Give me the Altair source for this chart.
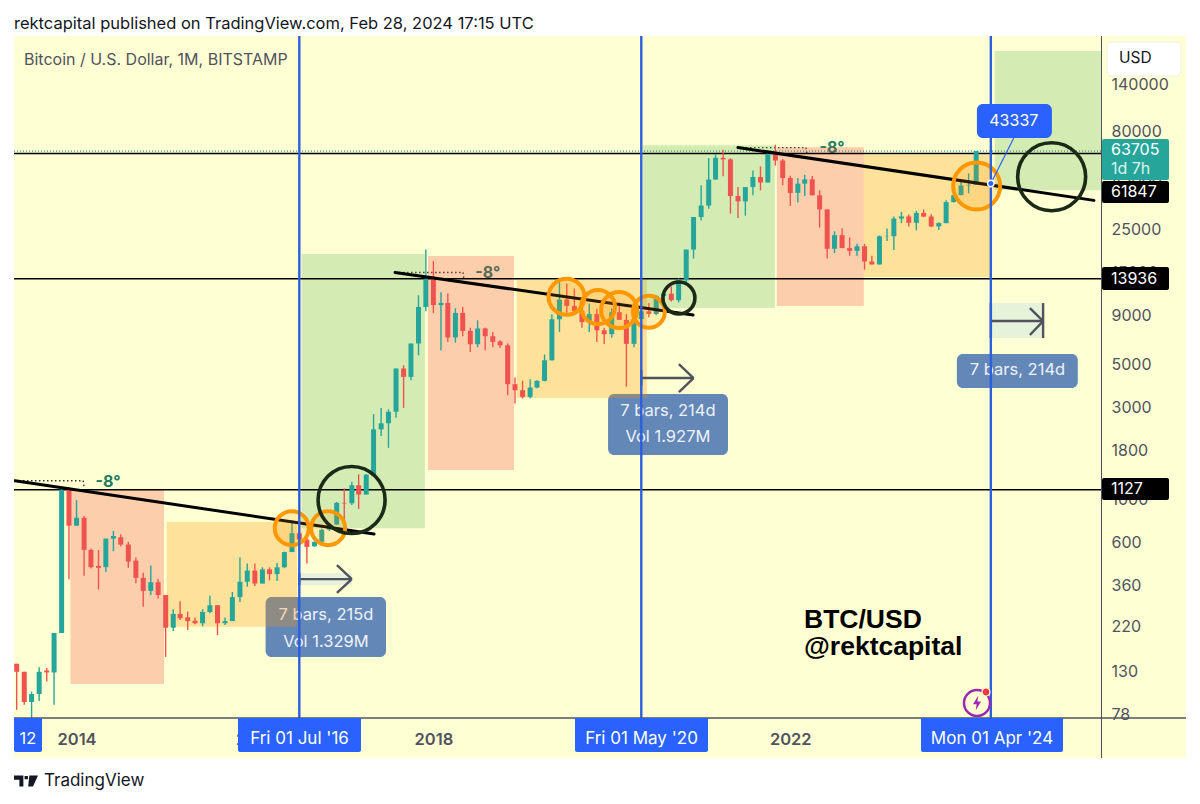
import altair as alt
import pandas as pd

FONT = "Inter"
BG = "#FFFFD4"
TEAL = "#26A69A"
RED = "#EF5350"
BLUE = "#2962FF"
LINEBLUE = "#2B5FDE"
ORANGE = "#FF9800"
DARK = "#1B2A17"

opens = [
    142, 129, 90, 99, 131, 128, 205, 1127,
    735, 808, 551, 455, 449, 630, 640, 587, 485, 395, 338, 375,
    322, 218, 257, 247, 237, 230, 263, 285, 230, 236, 314, 377,
    431, 369, 437, 413, 448, 537, 672, 623, 575, 606, 700, 745,
    965, 960, 1190, 1065, 1350, 2316, 2490, 2855, 4780, 4325, 6437, 9950,
    13850, 10170, 10440, 6916, 9265, 7480, 6385, 7700, 7020, 6600, 6300, 3965,
    3690, 3410, 3810, 4125, 5270, 8590, 10870, 10070, 9490, 8300, 9140, 7535,
    7190, 9350, 8530, 6410, 8620, 9450, 9150, 11350, 11650, 10780, 13660, 19700,
    29050, 33280, 45360, 58800, 57700, 37300, 35000, 41500, 46770, 43800, 61300, 56900,
    46200, 38700, 43200, 45500, 37600, 31800, 19900, 23400, 20050, 19400, 20500, 17100,
    16500, 23100, 23100, 28500, 29250, 27100, 30500, 29200, 25950, 27000, 34700, 37700,
    42300, 42600,
]
highs = [
    142, 129, 102, 136, 135, 205, 1165, 1165,
    997, 824, 560, 550, 630, 692, 664, 606, 504, 420, 458, 389,
    322, 272, 299, 264, 246, 272, 320, 285, 246, 334, 504, 469,
    469, 448, 448, 471, 540, 785, 700, 640, 610, 710, 755, 975,
    1147, 1241, 1355, 1360, 2776, 2990, 2940, 4780, 4970, 6437, 11440, 19740,
    17200, 11860, 11670, 9800, 9950, 7760, 8490, 7760, 7390, 6700, 6450, 4300,
    4130, 4200, 4160, 5645, 9130, 13960, 13140, 12390, 10960, 10360, 9750, 7770,
    9800, 10500, 9150, 9400, 10100, 10440, 11440, 12000, 12700, 13960, 19700, 29050,
    42400, 58700, 61280, 64800, 58500, 41500, 41500, 50600, 53100, 64400, 68700, 58000,
    47500, 46200, 48100, 47300, 39900, 31800, 24500, 25400, 22750, 21100, 21100, 18300,
    23300, 25300, 29200, 30900, 29900, 31300, 31800, 30000, 27300, 35500, 38000, 44700,
    48900, 63705,
]
lows = [
    82, 87, 66, 91, 115, 87, 205, 388,
    735, 405, 442, 344, 424, 543, 576, 445, 370, 280, 322, 309,
    154, 210, 239, 212, 227, 222, 259, 200, 225, 236, 296, 355,
    358, 369, 383, 380, 443, 537, 550, 469, 571, 606, 690, 745,
    741, 940, 897, 1065, 1350, 2137, 1857, 2655, 2990, 4160, 5600, 9440,
    9265, 5944, 6560, 6500, 7020, 5825, 6160, 5944, 6160, 6100, 3478, 3150,
    3340, 3340, 3780, 4100, 5250, 7390, 9015, 9280, 7760, 7390, 6560, 6400,
    6900, 8530, 3850, 6150, 8530, 8810, 9000, 11000, 10600, 10500, 13400, 17700,
    27900, 32000, 45360, 47200, 30240, 28700, 29500, 37600, 39900, 43800, 53600, 42400,
    33100, 34500, 37300, 37600, 25600, 17700, 18900, 20050, 18300, 18300, 15500, 16500,
    16500, 21800, 19600, 27000, 25900, 24800, 29000, 25800, 24900, 27000, 34500, 37600,
    38500, 42600,
]
closes = [
    129, 90, 99, 129, 128, 205, 1127, 735,
    808, 551, 449, 445, 630, 650, 587, 479, 395, 338, 375, 322,
    218, 257, 244, 236, 230, 263, 285, 230, 236, 314, 377, 431,
    369, 437, 413, 448, 537, 672, 623, 571, 606, 700, 745, 965,
    958, 1190, 1065, 1350, 2316, 2490, 2855, 4780, 4325, 6437, 9950, 13850,
    10170, 10440, 6916, 9265, 7480, 6385, 7700, 7020, 6560, 6300, 3965, 3690,
    3410, 3810, 4125, 5270, 8590, 10870, 10070, 9490, 8300, 9140, 7535, 7190,
    9350, 8530, 6410, 8620, 9450, 9150, 11350, 11650, 10780, 13660, 19700, 29050,
    33280, 45360, 58800, 57700, 37300, 35000, 41500, 46770, 43800, 61300, 56900, 46200,
    38700, 43200, 45500, 37600, 31800, 19900, 23400, 20050, 19400, 20500, 17100, 16500,
    23100, 23200, 28500, 29250, 27100, 30500, 29200, 25950, 27000, 34700, 37700, 42300,
    42600, 63705,
]
months = pd.date_range("2013-05-01", periods=len(closes), freq="MS").strftime("%Y-%m-%d").tolist()

price_ticks = [140000, 80000, 45000, 25000, 15000, 9000, 5000, 3000, 1800, 1000, 600, 360, 220, 130, 78]
year_ticks = [2014, 2016, 2018, 2020, 2022, 2024]

shade_start = ["2013-12-07", "2015-01-05", "2016-07-10", "2017-12-10", "2018-12-08", "2020-05-08", "2021-11-07", "2022-10-29", "2024-04-17"]
shade_end = ["2014-12-25", "2016-06-22", "2017-11-27", "2018-11-27", "2020-05-24", "2021-10-30", "2022-10-29", "2024-03-30", "2025-06-26"]
shade_low = [111.5, 220.6, 714, 1426, 3365, 9820, 10050, 14200, 40000]
shade_high = [1124, 768, 18690, 18240, 13700, 68300, 66600, 60700, 209500]
GREEN_SHADE = "rgba(76,175,80,0.24)"
RED_SHADE = "rgba(244,67,54,0.26)"
ORANGE_SHADE = "rgba(255,152,0,0.28)"
shade_color = [RED_SHADE, ORANGE_SHADE, GREEN_SHADE, RED_SHADE, ORANGE_SHADE, GREEN_SHADE, RED_SHADE, ORANGE_SHADE, GREEN_SHADE]

levels = [1127, 13936, 61847]
last_close = [63705]
cycle_dates = ["2016-07-01", "2020-05-01", "2024-04-01"]

trend_x = ["2013-04-24", "2017-07-28", "2021-06-01"]
trend_x2 = ["2017-05-03", "2020-11-29", "2025-05-28"]
trend_y = [1256, 15010, 66400]
trend_y2 = [665, 9030, 35400]

dot_x = ["2013-04-24", "2014-01-28", "2017-07-28", "2018-05-02", "2021-06-01", "2022-03-06"]
dot_x2 = ["2014-01-28", "2014-02-01", "2018-05-02", "2018-05-06", "2022-03-06", "2022-03-10"]
dot_y = [1256, 1256, 15010, 15010, 66400, 66400]
dot_y2 = [1256, 1165, 15010, 13880, 66400, 61830]

angle_x = ["2014-05-10", "2018-08-12", "2022-06-21"]
angle_y = [1236, 14900, 66000]

orange_x = ["2016-05-31", "2016-10-27", "2019-06-30", "2019-11-06", "2020-01-31", "2020-06-01", "2024-02-03"]
orange_y = [714, 714, 11230, 9940, 9590, 9390, 42000]
orange_d = [34, 34, 36, 34, 36, 32, 47]
black_x = ["2017-01-31", "2020-10-02", "2024-12-06"]
black_y = [998, 11070, 46940]
black_d = [67, 32, 68]

arrow_x = ["2016-07-01", "2016-12-02", "2016-12-02", "2020-05-01", "2020-10-02", "2020-10-02", "2024-04-01", "2024-09-08", "2024-09-08", "2024-11-01", "2016-07-01", "2020-05-01", "2024-04-01"]
arrow_x2 = ["2017-02-01", "2017-02-01", "2017-02-01", "2020-12-01", "2020-12-01", "2020-12-01", "2024-11-01", "2024-11-01", "2024-11-01", "2024-11-01", "2016-07-01", "2020-05-01", "2024-04-01"]
arrow_y = [389, 460, 330, 4268, 5040, 3610, 8410, 9820, 7120, 10420, 418, 4700, 10420]
arrow_y2 = [389, 389, 389, 4268, 4268, 4268, 8410, 8410, 8410, 6870, 362, 3900, 6870]

pale_x = ["2016-07-01", "2024-04-01"]
pale_x2 = ["2017-02-01", "2024-11-01"]
pale_y = [362, 6870]
pale_y2 = [418, 10420]

stat_x = ["2016-02-14", "2019-12-17", "2023-11-14"]
stat_x2 = ["2017-06-21", "2021-04-21", "2025-03-23"]
stat_y = [154, 1705, 3790]
stat_y2 = [314, 3525, 5680]
stat_text = ["7 bars, 215d", "Vol 1.329M", "7 bars, 214d", "Vol 1.927M", "7 bars, 214d"]
stat_text_x = ["2016-10-18", "2016-10-18", "2020-08-18", "2020-08-18", "2024-07-19"]
stat_text_y = [254, 184.5, 2878, 2112, 4695]

flag_text = ["12", "Fri 01 Jul '16", "Fri 01 May '20", "Mon 01 Apr '24"]
flag_left = [0, 224, 561, 907]
flag_right = [28, 347, 694, 1049]
flag_mid = [14, 285.5, 627.5, 978]

XS = alt.Scale(type="utc", domain=["2013-04-20", "2025-06-26"], nice=False, padding=0)
YS = alt.Scale(type="log", domain=[74.4, 250800], nice=False)

xaxis = alt.Axis(
    values=[alt.DateTime(year=y, month=1, date=1, utc=True) for y in year_ticks],
    format="%Y", labelFont=FONT, labelFontSize=16.5, labelFontWeight=600,
    labelColor="#50535E", ticks=False, domain=False, grid=False,
    labelPadding=13, labelOverlap=False, labelFlush=False,
)
yaxis = alt.Axis(
    values=price_ticks, orient="right", format="d", labelFont=FONT, labelFontSize=16,
    labelColor="#50535E", ticks=False, domain=False, grid=False, labelPadding=10,
    labelOverlap=False, labelFlush=False,
)


def X(f="x"):
    return alt.X(f"{f}:T", scale=XS, axis=xaxis, title=None)


def Y(f="y"):
    return alt.Y(f"{f}:Q", scale=YS, axis=yaxis, title=None)


def seg(xs, x2s, ys, y2s, **style):
    df = pd.DataFrame({"x": xs, "x2": x2s, "y": ys, "y2": y2s})
    return alt.Chart(df).mark_rule(clip=True, **style).encode(
        x=X(), x2="x2", y=Y(), y2="y2"
    )


def box(xs, x2s, ys, y2s, **style):
    df = pd.DataFrame({"x": xs, "x2": x2s, "y": ys, "y2": y2s})
    return alt.Chart(df).mark_rect(**style).encode(x=X(), x2="x2", y=Y(), y2="y2")


def ptext(texts, xs, ys, **style):
    df = pd.DataFrame({"x": xs, "y": ys, "t": texts})
    return alt.Chart(df).mark_text(font=FONT, **style).encode(x=X(), y=Y(), text="t:N")


def label(text, px, py, **style):
    style.setdefault("font", FONT)
    df = pd.DataFrame({"t": [text]})
    return alt.Chart(df).mark_text(**style).encode(
        x=alt.value(px), y=alt.value(py), text="t:N"
    )


def frame(x0, x1, y0, y1, **style):
    df = pd.DataFrame({"a": [0]})
    return alt.Chart(df).mark_rect(**style).encode(
        x=alt.value(x0), x2=alt.value(x1), y=alt.value(y0), y2=alt.value(y1)
    )


def frule(x0, x1, y0, y1, **style):
    df = pd.DataFrame({"a": [0]})
    return alt.Chart(df).mark_rule(**style).encode(
        x=alt.value(x0), x2=alt.value(x1), y=alt.value(y0), y2=alt.value(y1)
    )


def icon(shape, px, py, size, **style):
    df = pd.DataFrame({"a": [0]})
    return alt.Chart(df).mark_point(shape=shape, size=size, **style).encode(
        x=alt.value(px), y=alt.value(py)
    )


layers = []

# tools that lie under the shaded ranges
layers.append(box(stat_x, stat_x2, stat_y, stat_y2, color="#2F5FAE", opacity=0.75, cornerRadius=6))
layers.append(ptext(stat_text, stat_text_x, stat_text_y, fontSize=16.5, color="#EEF2F8"))
layers.append(ptext(["-8°"] * 3, angle_x, angle_y, fontSize=16, fontWeight=700, color="#1F7A62"))
layers.append(seg(dot_x, dot_x2, dot_y, dot_y2, color="#333333", strokeWidth=1.4, strokeDash=[1.5, 2.5]))

# shaded ranges
shades = pd.DataFrame({"x": shade_start, "x2": shade_end, "y": shade_low, "y2": shade_high, "c": shade_color})
layers.append(
    alt.Chart(shades).mark_rect(clip=True).encode(
        x=X(), x2="x2", y=Y(), y2="y2", color=alt.Color("c:N", scale=None)
    )
)
layers.append(box(pale_x, pale_x2, pale_y, pale_y2, color="#C9E2E2", opacity=0.45))

# horizontal levels
layers.append(
    alt.Chart(pd.DataFrame({"y": last_close})).mark_rule(color="#1B7D6B", strokeWidth=1, strokeDash=[1, 2])
    .encode(y=Y())
)
layers.append(
    alt.Chart(pd.DataFrame({"y": levels})).mark_rule(color="#000000", strokeWidth=1.5).encode(y=Y())
)

# candles
candles = pd.DataFrame({"x": months, "o": opens, "h": highs, "l": lows, "c": closes})
candles["col"] = [TEAL if c >= o else RED for o, c in zip(opens, closes)]
layers.append(
    alt.Chart(candles).mark_rule(clip=True, strokeWidth=1.4).encode(
        x=X(), y=Y("l"), y2="h", color=alt.Color("col:N", scale=None)
    )
)
layers.append(
    alt.Chart(candles).mark_bar(clip=True, size=5).encode(
        x=X(), y=Y("o"), y2="c", color=alt.Color("col:N", scale=None)
    )
)

# arrows, trend lines, circles
layers.append(seg(arrow_x, arrow_x2, arrow_y, arrow_y2, color="#50535E", strokeWidth=2.4))
layers.append(seg(trend_x, trend_x2, trend_y, trend_y2, color="#000000", strokeWidth=3, strokeCap="round"))
layers.append(
    alt.Chart(pd.DataFrame({"x": orange_x, "y": orange_y, "d": [d * d for d in orange_d]}))
    .mark_point(shape="circle", fill=ORANGE, fillOpacity=0.16, stroke=ORANGE, strokeWidth=4, strokeOpacity=1, opacity=1, clip=True)
    .encode(x=X(), y=Y(), size=alt.Size("d:Q", scale=None, legend=None))
)
layers.append(
    alt.Chart(pd.DataFrame({"x": black_x, "y": black_y, "d": [d * d for d in black_d]}))
    .mark_point(shape="circle", filled=False, stroke=DARK, strokeWidth=3.6, opacity=1, clip=True)
    .encode(x=X(), y=Y(), size=alt.Size("d:Q", scale=None, legend=None))
)

# cycle date verticals
layers.append(
    alt.Chart(pd.DataFrame({"x": cycle_dates})).mark_rule(color=LINEBLUE, strokeWidth=2.4).encode(x=X())
)

# price callout
layers.append(seg(["2024-04-01"], ["2024-07-04"], [43337], [74400], color=BLUE, strokeWidth=1.2))
layers.append(box(["2024-02-04"], ["2024-12-07"], [74400], [111500], color=BLUE, cornerRadius=6))
layers.append(ptext(["43337"], ["2024-07-04"], [91100], fontSize=16, color="#FFFFFF"))
layers.append(
    alt.Chart(pd.DataFrame({"x": ["2024-04-01"], "y": [43337]}))
    .mark_point(shape="circle", size=42, fill=BLUE, stroke="#FFFFFF", strokeWidth=1.5, opacity=1)
    .encode(x=X(), y=Y())
)

# lightning badge
layers.append(icon("circle", 963, 667, 676, filled=False, stroke="#9C27B0", strokeWidth=2.5, opacity=1))
layers.append(icon("M.15 -.9 L-.5 .15 H-.05 L-.15 .9 L.5 -.2 H.05 Z", 963, 667, 256, filled=True, color="#9C27B0", opacity=1))
layers.append(icon("circle", 972, 656, 64, fill="#F23645", stroke=BG, strokeWidth=1.2, opacity=1))

# masks that turn the canvas outside the chart frame white
for m in [(-6, 0, -28, 756), (1172, 1178, -28, 756), (-6, 1178, -28, 0), (-6, 1178, 722, 756)]:
    layers.append(frame(*m, color="#FFFFFF"))

# frame furniture
layers.append(frule(1087.5, 1087.5, 0, 722, color="#50535E", strokeWidth=1))
layers.append(frule(0, 1172, 682, 682, color="#50535E", strokeWidth=1.6))

# time flags
for txt, l, r, m in zip(flag_text, flag_left, flag_right, flag_mid):
    layers.append(frame(l, r, 682, 716, color=BLUE, cornerRadiusBottomLeft=2, cornerRadiusBottomRight=2))
    layers.append(label(txt, m, 703, fontSize=17 if txt != "12" else 16.5, color="#FFFFFF", align="center"))

# price labels
PX = 1097
layers.append(frame(1088, 1155, 442, 464, color="#000000", cornerRadius=2))
layers.append(label("1127", PX, 453, fontSize=16, color="#FFFFFF", align="left"))
layers.append(frame(1088, 1155, 231, 254, color="#000000", cornerRadius=2))
layers.append(label("13936", PX, 242.5, fontSize=16, color="#FFFFFF", align="left"))
layers.append(frame(1088, 1155, 103, 144, color=TEAL, cornerRadius=2))
layers.append(label("63705", PX, 114, fontSize=16, color="#FFFFFF", align="left"))
layers.append(label("1d 7h", PX, 133, fontSize=16, color="#DDF3EF", align="left"))
layers.append(frame(1088, 1155, 145, 167, color="#000000", cornerRadius=2))
layers.append(label("61847", PX, 156, fontSize=16, color="#FFFFFF", align="left"))
layers.append(frame(1093, 1167, 6, 40, color="#FFFFFF", cornerRadius=5, stroke="#F0F0E0"))
layers.append(label("USD", 1105, 22, fontSize=15.5, color="#131722", align="left"))

# texts
layers.append(label("rektcapital published on TradingView.com, Feb 28, 2024 17:15 UTC", 0, -12, fontSize=16.5, color="#131722", align="left"))
layers.append(label("Bitcoin / U.S. Dollar, 1M, BITSTAMP", 10, 24, fontSize=16, color="#50535E", align="left"))
layers.append(label("BTC/USD", 790, 584, font="Liberation Sans", fontSize=26.5, fontWeight=700, color="#000000", align="left"))
layers.append(label("@rektcapital", 790, 611, font="Liberation Sans", fontSize=26.5, fontWeight=700, color="#000000", align="left"))

# TradingView wordmark
layers.append(icon("M-1 -.45 H-.22 V.45 H-.55 V-.1 H-1 Z M.28 -.45 H1 L.58 .45 H.18 Z M-.12 -.42 H.16 V-.14 H-.12 Z", 12, 745, 576, filled=True, color="#131722", opacity=1))
layers.append(label("TradingView", 30, 745, fontSize=17, color="#131722", align="left"))

chart = alt.layer(*layers).properties(
    width=1087, height=682,
    padding={"left": 6, "top": 28, "right": 91, "bottom": 74},
    autosize=alt.AutoSizeParams(type="none"),
    background=BG,
).configure_view(strokeWidth=0)

chart.save("out.html", embed_options={"renderer": "svg", "actions": False})
